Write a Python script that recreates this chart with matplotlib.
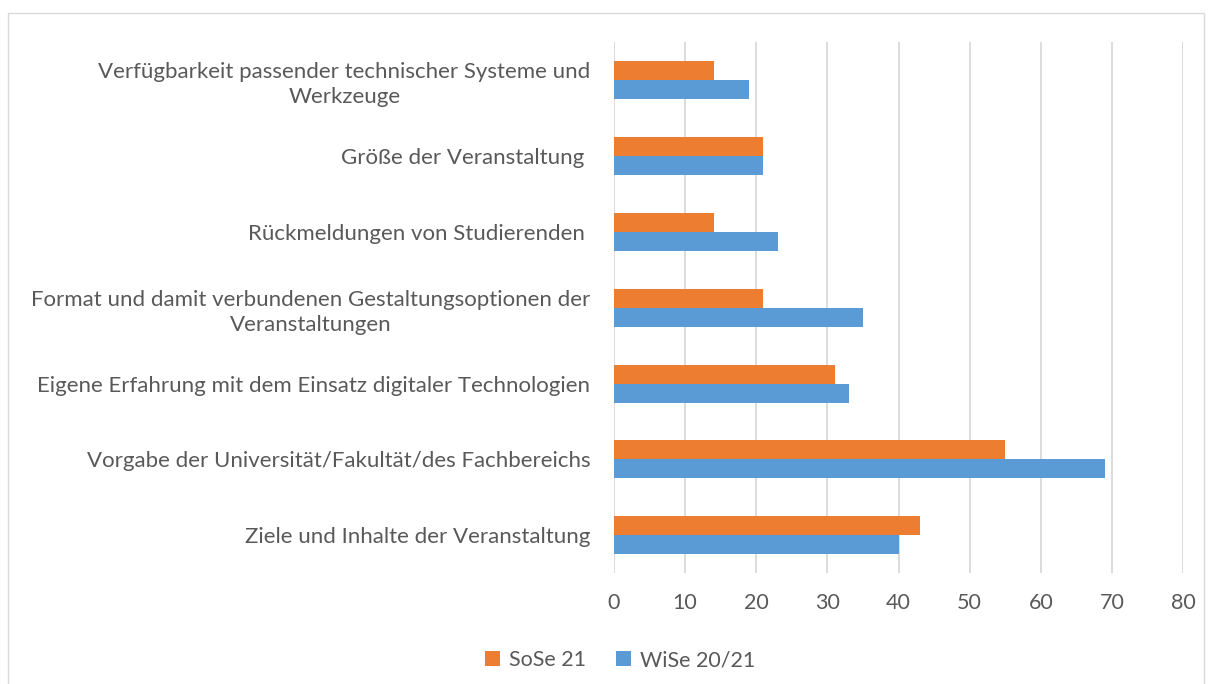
import matplotlib
matplotlib.use("Agg")
import matplotlib.pyplot as plt
from matplotlib.patches import Rectangle
import numpy as np

categories = [
    "Verfügbarkeit passender technischer Systeme und\nWerkzeuge",
    "Größe der Veranstaltung ",
    "Rückmeldungen von Studierenden ",
    "Format und damit verbundenen Gestaltungsoptionen der\nVeranstaltungen",
    "Eigene Erfahrung mit dem Einsatz digitaler Technologien",
    "Vorgabe der Universität/Fakultät/des Fachbereichs",
    "Ziele und Inhalte der Veranstaltung",
]
sose21 = [14, 21, 14, 21, 31, 55, 43]
wise2021 = [19, 21, 23, 35, 33, 69, 40]
series_names = ["SoSe 21", "WiSe 20/21"]
xticks = [0, 10, 20, 30, 40, 50, 60, 70, 80]

text_color = "#595959"
plt.rcParams["font.family"] = ["Lato", "DejaVu Sans"]

fig = plt.figure(figsize=(12.11, 6.84), dpi=100)
ax = fig.add_axes([0.507, 0.162, 0.470, 0.776])

# top category first -> reverse positions
y = np.arange(len(categories))[::-1]
h = 0.25
ax.barh(y + h / 2, sose21, height=h, color="#ED7D31", label=series_names[0], zorder=3)
ax.barh(y - h / 2, wise2021, height=h, color="#5B9BD5", label=series_names[1], zorder=3)

ax.set_xlim(0, 80)
ax.set_ylim(-0.5, len(categories) - 0.5)
ax.set_xticks(xticks)
ax.set_yticks(y)
ax.set_yticklabels(categories, multialignment="center", linespacing=1.32)
ax.tick_params(axis="both", length=0, colors=text_color, labelsize=15.5)
ax.tick_params(axis="y", pad=17, labelsize=16)
ax.tick_params(axis="x", pad=14)
ax.grid(axis="x", color="#D9D9D9", linewidth=1.3, zorder=0)
for s in ax.spines.values():
    s.set_visible(False)

fig.legend(loc="center", bbox_to_anchor=(0.512, 0.035), ncol=2, frameon=False,
           fontsize=15.5, labelcolor=text_color, handlelength=0.7, handleheight=0.7,
           handletextpad=0.4, columnspacing=1.4)

fig.patches.append(Rectangle((8 / 1211, -0.01), 1196 / 1211, 1 - 13 / 684 + 0.01,
                             transform=fig.transFigure, fill=False,
                             edgecolor="#D9D9D9", linewidth=1))

fig.savefig("out.png", dpi=100)
